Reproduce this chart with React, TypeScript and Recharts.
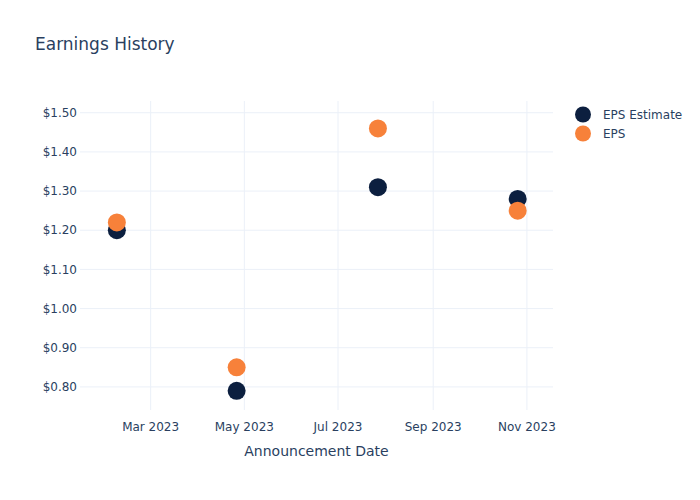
import {
  ReferenceLine,
  Scatter,
  ScatterChart,
  XAxis,
  YAxis,
} from 'recharts';

// Announcement dates and EPS values.
const announceDates = ['2023-02-07', '2023-04-26', '2023-07-27', '2023-10-26'];
const epsEstimate = [1.2, 0.79, 1.31, 1.28];
const epsActual = [1.22, 0.85, 1.46, 1.25];

const xTickDates = ['2023-03-01', '2023-05-01', '2023-07-01', '2023-09-01', '2023-11-01'];
const yTicks = [0.8, 0.9, 1.0, 1.1, 1.2, 1.3, 1.4, 1.5];

const MONTHS = ['Jan', 'Feb', 'Mar', 'Apr', 'May', 'Jun', 'Jul', 'Aug', 'Sep', 'Oct', 'Nov', 'Dec'];
const NAVY = '#0c1f3f';
const ORANGE = '#f7813a';
const TEXT = '#2a3f5f';
const GRID = '#ebf0f8';
const FONT = '"DejaVu Sans", sans-serif';

const toTs = (iso: string) => new Date(`${iso}T00:00:00Z`).getTime();

const estimateData = announceDates.map((d, i) => ({ date: toTs(d), value: epsEstimate[i] }));
const actualData = announceDates.map((d, i) => ({ date: toTs(d), value: epsActual[i] }));

function monthLabel(ts: number): string {
  const d = new Date(ts);
  return `${MONTHS[d.getUTCMonth()]} ${d.getUTCFullYear()}`;
}

function dot(color: string) {
  return (props: any) => <circle cx={props.cx} cy={props.cy} r={9} fill={color} />;
}

const legendItems = [
  { name: 'EPS Estimate', color: NAVY },
  { name: 'EPS', color: ORANGE },
];

function LegendBox() {
  return (
    <div
      style={{
        position: 'absolute',
        left: 574,
        top: 105,
        fontFamily: FONT,
        fontSize: 12,
        color: TEXT,
      }}
    >
      {legendItems.map((it) => (
        <div key={it.name} style={{ display: 'flex', alignItems: 'center', height: 19 }}>
          <svg width={20} height={19} style={{ marginRight: 9 }}>
            <circle cx={9} cy={9.5} r={8} fill={it.color} />
          </svg>
          <span>{it.name}</span>
        </div>
      ))}
    </div>
  );
}

export default function App() {
  return (
    <div style={{ position: 'absolute', left: 0, top: 0, width: 700, height: 500, background: '#fff' }}>
      <div
        style={{
          position: 'absolute',
          left: 35,
          top: 34,
          fontFamily: FONT,
          fontSize: 17,
          color: TEXT,
        }}
      >
        Earnings History
      </div>
      <ScatterChart width={700} height={500} margin={{ top: 101, right: 147, bottom: 60, left: 0 }}>
        <XAxis
          type="number"
          dataKey="date"
          height={30}
          domain={[toTs('2023-01-14'), toTs('2023-11-18')]}
          ticks={xTickDates.map(toTs)}
          tickFormatter={monthLabel}
          axisLine={false}
          tickLine={false}
          tickSize={0}
          tickMargin={12}
          tick={{ fill: TEXT, fontSize: 12, fontFamily: FONT }}
          allowDataOverflow
          label={{
            value: 'Announcement Date',
            position: 'insideBottom',
            offset: -16,
            fill: TEXT,
            fontSize: 14,
            fontFamily: FONT,
          }}
        />
        <YAxis
          type="number"
          dataKey="value"
          width={80}
          domain={[0.741, 1.53]}
          ticks={yTicks}
          tickFormatter={(v: number) => `$${v.toFixed(2)}`}
          axisLine={false}
          tickLine={false}
          tickSize={0}
          tickMargin={3}
          tick={{ fill: TEXT, fontSize: 12, fontFamily: FONT }}
          allowDataOverflow
        />
        {yTicks.map((v) => (
          <ReferenceLine key={`y${v}`} y={v} stroke={GRID} strokeWidth={1} />
        ))}
        {xTickDates.map((d) => (
          <ReferenceLine key={`x${d}`} x={toTs(d)} stroke={GRID} strokeWidth={1} />
        ))}
        <Scatter name="EPS Estimate" data={estimateData} fill={NAVY} shape={dot(NAVY)} isAnimationActive={false} />
        <Scatter name="EPS" data={actualData} fill={ORANGE} shape={dot(ORANGE)} isAnimationActive={false} />
      </ScatterChart>
      <LegendBox />
    </div>
  );
}
